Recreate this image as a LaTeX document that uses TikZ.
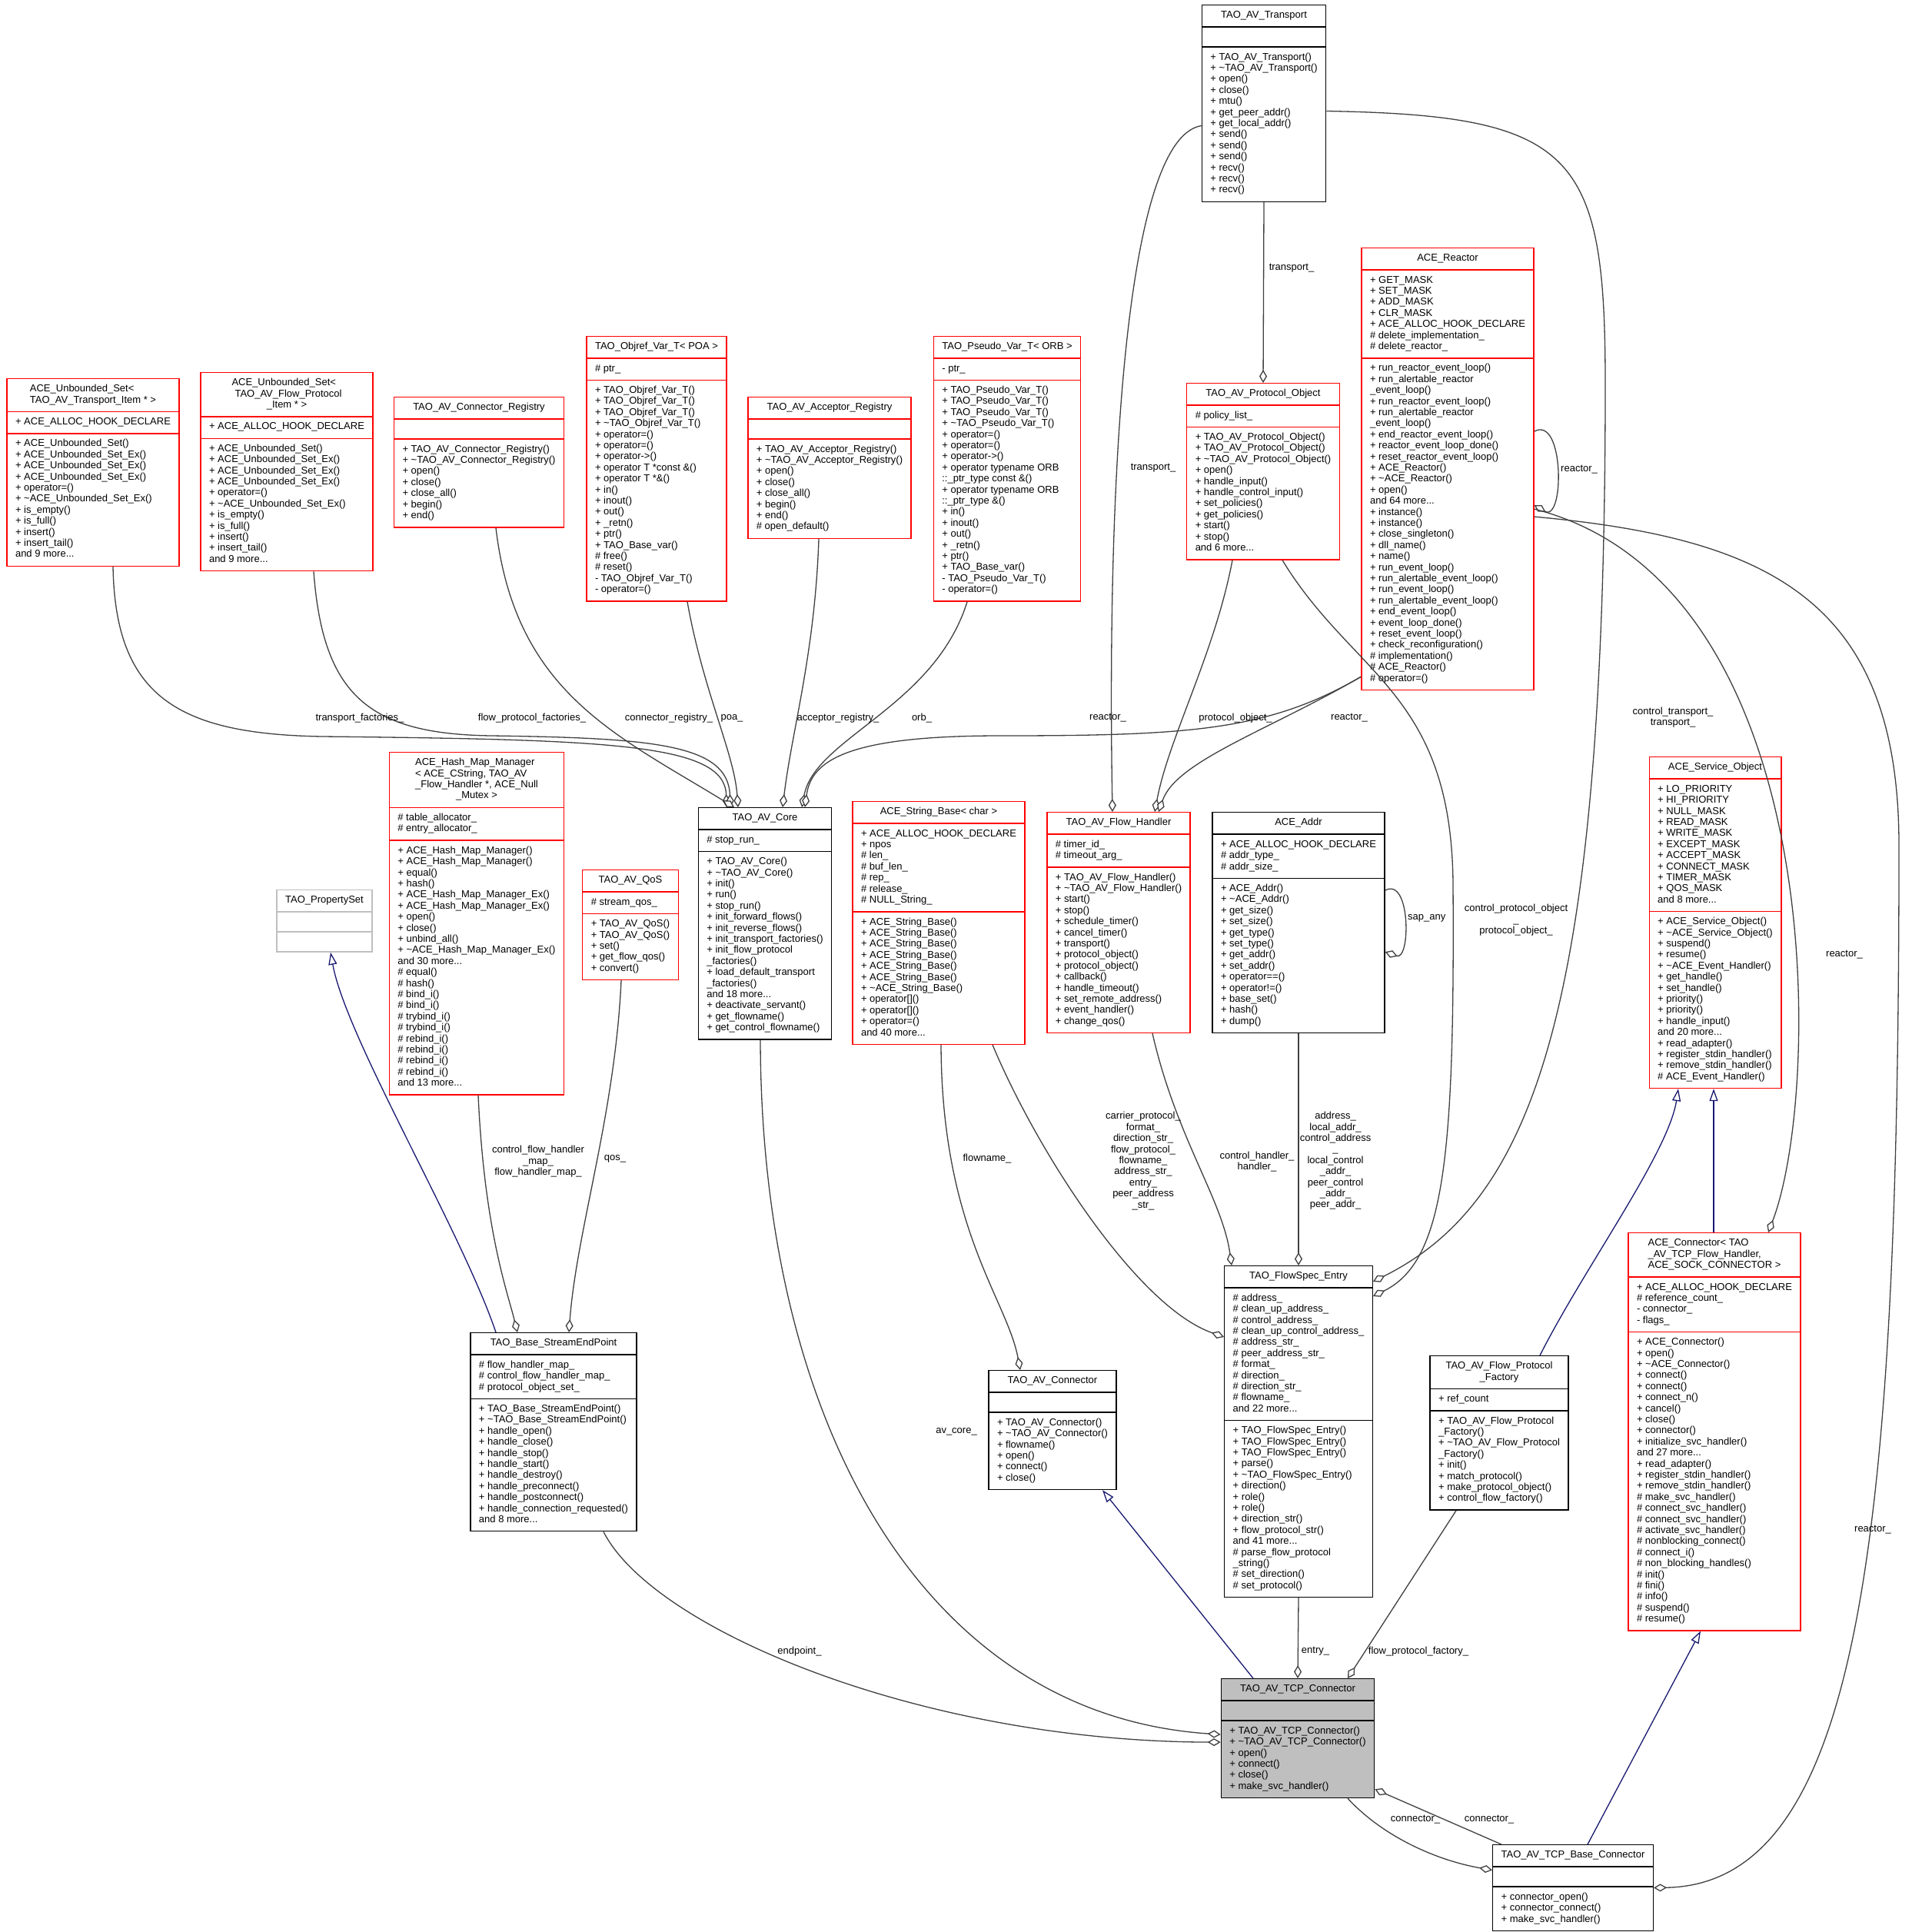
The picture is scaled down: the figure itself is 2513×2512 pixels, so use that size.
\documentclass[tikz,border=0pt]{standalone}
\usepackage{fontspec}
\setmainfont{Liberation Sans}
\usetikzlibrary{shapes.multipart,arrows.meta}
\definecolor{edgegray}{HTML}{404040}
\definecolor{navyblue}{HTML}{191970}
\definecolor{boxred}{HTML}{FF0000}
\definecolor{boxgray}{HTML}{BFBFBF}
\newcommand\Lt[1]{\begin{tabular}{@{}l@{}}#1\end{tabular}}
\newcommand\Ct[1]{\begin{tabular}{@{}c@{}}#1\end{tabular}}
\newcommand\cc[1]{\multicolumn{1}{@{}c@{}}{#1}}
\newcommand\tld{\textasciitilde}
\newcommand\Emp{\rule{0pt}{12pt}}
\tikzset{
 cls/.style={rectangle split, rectangle split parts=3, rectangle split part align={center,left,left}, draw=#1, line width=1.4pt, fill=white, inner xsep=11pt, inner ysep=6.3pt, anchor=north, font=\fontsize{13}{14.4}\selectfont},
 cls/.default=black,
 agg/.style={draw=edgegray, line width=1.3pt, -{Diamond[fill=white,length=17pt,width=10pt]}},
 inh/.style={draw=navyblue, line width=1.3pt, -{Triangle[fill=white,length=16pt,width=11pt]}},
 lbl/.style={font=\fontsize{13}{14.4}\selectfont, inner sep=0pt, align=center},
}
\begin{document}
\catcode`\_=12
\begin{tikzpicture}[x=1pt,y=-1pt]
\useasboundingbox (0,0) rectangle (2513,2512);
\fill[white] (0,0) rectangle (2513,2512);

% ---------- classes ----------
\node[cls] (tr) at (1644,6) {\Ct{TAO_AV_Transport}%
 \nodepart{two}\Emp%
 \nodepart{three}\Lt{+ TAO_AV_Transport()\\+ \tld{}TAO_AV_Transport()\\+ open()\\+ close()\\+ mtu()\\+ get_peer_addr()\\+ get_local_addr()\\+ send()\\+ send()\\+ send()\\+ recv()\\+ recv()\\+ recv()}};

\node[cls=boxred] (us1) at (121,492) {\Lt{ACE_Unbounded_Set<\\\cc{TAO_AV_Transport_Item * >}}%
 \nodepart{two}\Lt{+ ACE_ALLOC_HOOK_DECLARE}%
 \nodepart{three}\Lt{+ ACE_Unbounded_Set()\\+ ACE_Unbounded_Set_Ex()\\+ ACE_Unbounded_Set_Ex()\\+ ACE_Unbounded_Set_Ex()\\+ operator=()\\+ \tld{}ACE_Unbounded_Set_Ex()\\+ is_empty()\\+ is_full()\\+ insert()\\+ insert_tail()\\and 9 more...}};

\node[cls=boxred] (us2) at (373,484) {\Lt{ACE_Unbounded_Set<\\\hspace{4pt}TAO_AV_Flow_Protocol\\\cc{_Item * >}}%
 \nodepart{two}\Lt{+ ACE_ALLOC_HOOK_DECLARE}%
 \nodepart{three}\Lt{+ ACE_Unbounded_Set()\\+ ACE_Unbounded_Set_Ex()\\+ ACE_Unbounded_Set_Ex()\\+ ACE_Unbounded_Set_Ex()\\+ operator=()\\+ \tld{}ACE_Unbounded_Set_Ex()\\+ is_empty()\\+ is_full()\\+ insert()\\+ insert_tail()\\and 9 more...}};

\node[cls=boxred] (creg) at (623,516) {\Ct{TAO_AV_Connector_Registry}%
 \nodepart{two}\Emp%
 \nodepart{three}\Lt{+ TAO_AV_Connector_Registry()\\+ \tld{}TAO_AV_Connector_Registry()\\+ open()\\+ close()\\+ close_all()\\+ begin()\\+ end()}};

\node[cls=boxred] (objref) at (854,437) {\Ct{TAO_Objref_Var_T< POA >}%
 \nodepart{two}\Lt{\# ptr_}%
 \nodepart{three}\Lt{+ TAO_Objref_Var_T()\\+ TAO_Objref_Var_T()\\+ TAO_Objref_Var_T()\\+ \tld{}TAO_Objref_Var_T()\\+ operator=()\\+ operator=()\\+ operator->()\\+ operator T *const \&()\\+ operator T *\&()\\+ in()\\+ inout()\\+ out()\\+ _retn()\\+ ptr()\\+ TAO_Base_var()\\\# free()\\\# reset()\\- TAO_Objref_Var_T()\\- operator=()}};

\node[cls=boxred] (areg) at (1079,516) {\Ct{TAO_AV_Acceptor_Registry}%
 \nodepart{two}\Emp%
 \nodepart{three}\Lt{+ TAO_AV_Acceptor_Registry()\\+ \tld{}TAO_AV_Acceptor_Registry()\\+ open()\\+ close()\\+ close_all()\\+ begin()\\+ end()\\\# open_default()}};

\node[cls=boxred] (pseudo) at (1310,437) {\Ct{TAO_Pseudo_Var_T< ORB >}%
 \nodepart{two}\Lt{- ptr_}%
 \nodepart{three}\Lt{+ TAO_Pseudo_Var_T()\\+ TAO_Pseudo_Var_T()\\+ TAO_Pseudo_Var_T()\\+ \tld{}TAO_Pseudo_Var_T()\\+ operator=()\\+ operator=()\\+ operator->()\\+ operator typename ORB\\::_ptr_type const \&()\\+ operator typename ORB\\::_ptr_type \&()\\+ in()\\+ inout()\\+ out()\\+ _retn()\\+ ptr()\\+ TAO_Base_var()\\- TAO_Pseudo_Var_T()\\- operator=()}};

\node[cls=boxred] (proto) at (1643,498) {\Ct{TAO_AV_Protocol_Object}%
 \nodepart{two}\Lt{\# policy_list_}%
 \nodepart{three}\Lt{+ TAO_AV_Protocol_Object()\\+ TAO_AV_Protocol_Object()\\+ \tld{}TAO_AV_Protocol_Object()\\+ open()\\+ handle_input()\\+ handle_control_input()\\+ set_policies()\\+ get_policies()\\+ start()\\+ stop()\\and 6 more...}};

\node[cls=boxred] (reactor) at (1883,322) {\Ct{ACE_Reactor}%
 \nodepart{two}\Lt{+ GET_MASK\\+ SET_MASK\\+ ADD_MASK\\+ CLR_MASK\\+ ACE_ALLOC_HOOK_DECLARE\\\# delete_implementation_\\\# delete_reactor_}%
 \nodepart{three}\Lt{+ run_reactor_event_loop()\\+ run_alertable_reactor\\_event_loop()\\+ run_reactor_event_loop()\\+ run_alertable_reactor\\_event_loop()\\+ end_reactor_event_loop()\\+ reactor_event_loop_done()\\+ reset_reactor_event_loop()\\+ ACE_Reactor()\\+ \tld{}ACE_Reactor()\\+ open()\\and 64 more...\\+ instance()\\+ instance()\\+ close_singleton()\\+ dll_name()\\+ name()\\+ run_event_loop()\\+ run_alertable_event_loop()\\+ run_event_loop()\\+ run_alertable_event_loop()\\+ end_event_loop()\\+ event_loop_done()\\+ reset_event_loop()\\+ check_reconfiguration()\\\# implementation()\\\# ACE_Reactor()\\\# operator=()}};

\node[cls=boxred] (hashmap) at (620,978) {\Lt{ACE_Hash_Map_Manager\\< ACE_CString, TAO_AV\\_Flow_Handler *, ACE_Null\\\cc{_Mutex >}}%
 \nodepart{two}\Lt{\# table_allocator_\\\# entry_allocator_}%
 \nodepart{three}\Lt{+ ACE_Hash_Map_Manager()\\+ ACE_Hash_Map_Manager()\\+ equal()\\+ hash()\\+ ACE_Hash_Map_Manager_Ex()\\+ ACE_Hash_Map_Manager_Ex()\\+ open()\\+ close()\\+ unbind_all()\\+ \tld{}ACE_Hash_Map_Manager_Ex()\\and 30 more...\\\# equal()\\\# hash()\\\# bind_i()\\\# bind_i()\\\# trybind_i()\\\# trybind_i()\\\# rebind_i()\\\# rebind_i()\\\# rebind_i()\\\# rebind_i()\\and 13 more...}};

\node[cls=boxgray] (propset) at (422,1157) {\Ct{TAO_PropertySet}%
 \nodepart{two}\Emp%
 \nodepart{three}\Emp};

\node[cls=boxred] (qos) at (820,1131) {\Ct{TAO_AV_QoS}%
 \nodepart{two}\Lt{\# stream_qos_}%
 \nodepart{three}\Lt{+ TAO_AV_QoS()\\+ TAO_AV_QoS()\\+ set()\\+ get_flow_qos()\\+ convert()}};

\node[cls] (core) at (995,1050) {\Ct{TAO_AV_Core}%
 \nodepart{two}\Lt{\# stop_run_}%
 \nodepart{three}\Lt{+ TAO_AV_Core()\\+ \tld{}TAO_AV_Core()\\+ init()\\+ run()\\+ stop_run()\\+ init_forward_flows()\\+ init_reverse_flows()\\+ init_transport_factories()\\+ init_flow_protocol\\_factories()\\+ load_default_transport\\_factories()\\and 18 more...\\+ deactivate_servant()\\+ get_flowname()\\+ get_control_flowname()}};

\node[cls=boxred] (strbase) at (1221,1042) {\Ct{ACE_String_Base< char >}%
 \nodepart{two}\Lt{+ ACE_ALLOC_HOOK_DECLARE\\+ npos\\\# len_\\\# buf_len_\\\# rep_\\\# release_\\\# NULL_String_}%
 \nodepart{three}\Lt{+ ACE_String_Base()\\+ ACE_String_Base()\\+ ACE_String_Base()\\+ ACE_String_Base()\\+ ACE_String_Base()\\+ ACE_String_Base()\\+ \tld{}ACE_String_Base()\\+ operator[]()\\+ operator[]()\\+ operator=()\\and 40 more...}};

\node[cls=boxred] (flowh) at (1455,1056) {\Ct{TAO_AV_Flow_Handler}%
 \nodepart{two}\Lt{\# timer_id_\\\# timeout_arg_}%
 \nodepart{three}\Lt{+ TAO_AV_Flow_Handler()\\+ \tld{}TAO_AV_Flow_Handler()\\+ start()\\+ stop()\\+ schedule_timer()\\+ cancel_timer()\\+ transport()\\+ protocol_object()\\+ protocol_object()\\+ callback()\\+ handle_timeout()\\+ set_remote_address()\\+ event_handler()\\+ change_qos()}};

\node[cls] (addr) at (1689,1056) {\Ct{ACE_Addr}%
 \nodepart{two}\Lt{+ ACE_ALLOC_HOOK_DECLARE\\\# addr_type_\\\# addr_size_}%
 \nodepart{three}\Lt{+ ACE_Addr()\\+ \tld{}ACE_Addr()\\+ get_size()\\+ set_size()\\+ get_type()\\+ set_type()\\+ get_addr()\\+ set_addr()\\+ operator==()\\+ operator!=()\\+ base_set()\\+ hash()\\+ dump()}};

\node[cls=boxred] (svcobj) at (2231,984) {\Ct{ACE_Service_Object}%
 \nodepart{two}\Lt{+ LO_PRIORITY\\+ HI_PRIORITY\\+ NULL_MASK\\+ READ_MASK\\+ WRITE_MASK\\+ EXCEPT_MASK\\+ ACCEPT_MASK\\+ CONNECT_MASK\\+ TIMER_MASK\\+ QOS_MASK\\and 8 more...}%
 \nodepart{three}\Lt{+ ACE_Service_Object()\\+ \tld{}ACE_Service_Object()\\+ suspend()\\+ resume()\\+ \tld{}ACE_Event_Handler()\\+ get_handle()\\+ set_handle()\\+ priority()\\+ priority()\\+ handle_input()\\and 20 more...\\+ read_adapter()\\+ register_stdin_handler()\\+ remove_stdin_handler()\\\# ACE_Event_Handler()}};

\node[cls=boxred] (acecon) at (2230,1603) {\Lt{ACE_Connector< TAO\\_AV_TCP_Flow_Handler,\\\cc{ACE_SOCK_CONNECTOR >}}%
 \nodepart{two}\Lt{+ ACE_ALLOC_HOOK_DECLARE\\\# reference_count_\\- connector_\\- flags_}%
 \nodepart{three}\Lt{+ ACE_Connector()\\+ open()\\+ \tld{}ACE_Connector()\\+ connect()\\+ connect()\\+ connect_n()\\+ cancel()\\+ close()\\+ connector()\\+ initialize_svc_handler()\\and 27 more...\\+ read_adapter()\\+ register_stdin_handler()\\+ remove_stdin_handler()\\\# make_svc_handler()\\\# connect_svc_handler()\\\# connect_svc_handler()\\\# activate_svc_handler()\\\# nonblocking_connect()\\\# connect_i()\\\# non_blocking_handles()\\\# init()\\\# fini()\\\# info()\\\# suspend()\\\# resume()}};

\node[cls] (flowspec) at (1689,1646) {\Ct{TAO_FlowSpec_Entry}%
 \nodepart{two}\Lt{\# address_\\\# clean_up_address_\\\# control_address_\\\# clean_up_control_address_\\\# address_str_\\\# peer_address_str_\\\# format_\\\# direction_\\\# direction_str_\\\# flowname_\\and 22 more...}%
 \nodepart{three}\Lt{+ TAO_FlowSpec_Entry()\\+ TAO_FlowSpec_Entry()\\+ TAO_FlowSpec_Entry()\\+ parse()\\+ \tld{}TAO_FlowSpec_Entry()\\+ direction()\\+ role()\\+ role()\\+ direction_str()\\+ flow_protocol_str()\\and 41 more...\\\# parse_flow_protocol\\_string()\\\# set_direction()\\\# set_protocol()}};

\node[cls] (fpf) at (1950,1763) {\Lt{TAO_AV_Flow_Protocol\\\cc{_Factory}}%
 \nodepart{two}\Lt{+ ref_count}%
 \nodepart{three}\Lt{+ TAO_AV_Flow_Protocol\\_Factory()\\+ \tld{}TAO_AV_Flow_Protocol\\_Factory()\\+ init()\\+ match_protocol()\\+ make_protocol_object()\\+ control_flow_factory()}};

\node[cls] (bse) at (720,1733) {\Ct{TAO_Base_StreamEndPoint}%
 \nodepart{two}\Lt{\# flow_handler_map_\\\# control_flow_handler_map_\\\# protocol_object_set_}%
 \nodepart{three}\Lt{+ TAO_Base_StreamEndPoint()\\+ \tld{}TAO_Base_StreamEndPoint()\\+ handle_open()\\+ handle_close()\\+ handle_stop()\\+ handle_start()\\+ handle_destroy()\\+ handle_preconnect()\\+ handle_postconnect()\\+ handle_connection_requested()\\and 8 more...}};

\node[cls] (avcon) at (1369,1782) {\Ct{TAO_AV_Connector}%
 \nodepart{two}\Emp%
 \nodepart{three}\Lt{+ TAO_AV_Connector()\\+ \tld{}TAO_AV_Connector()\\+ flowname()\\+ open()\\+ connect()\\+ close()}};

\node[cls, fill=boxgray] (tcp) at (1688,2183) {\Ct{TAO_AV_TCP_Connector}%
 \nodepart{two}\Emp%
 \nodepart{three}\Lt{+ TAO_AV_TCP_Connector()\\+ \tld{}TAO_AV_TCP_Connector()\\+ open()\\+ connect()\\+ close()\\+ make_svc_handler()}};

\node[cls] (tcpbase) at (2046,2399) {\Ct{TAO_AV_TCP_Base_Connector}%
 \nodepart{two}\Emp%
 \nodepart{three}\Lt{+ connector_open()\\+ connector_connect()\\+ make_svc_handler()}};

% ---------- aggregation edges ----------
\draw[agg] ([xshift=26pt]us1.south) .. controls (150,905) and (230,955) .. (420,958) .. controls (800,962) and (943,968) .. ([xshift=-50pt]core.north);
\draw[agg] ([xshift=35pt]us2.south) .. controls (420,905) and (480,955) .. (640,957) .. controls (850,960) and (947,968) .. ([xshift=-45pt]core.north);
\draw[agg] ([xshift=22pt]creg.south) .. controls (670,900) and (800,955) .. ([xshift=-40pt]core.north);
\draw[agg] ([xshift=40pt]objref.south) .. controls (915,900) and (955,980) .. ([xshift=-35pt]core.north);
\draw[agg] ([xshift=-14pt]areg.south) .. controls (1060,850) and (1030,950) .. ([xshift=23pt]core.north);
\draw[agg] ([xshift=-52pt]pseudo.south) .. controls (1215,920) and (1060,960) .. ([xshift=48pt]core.north);
\draw[agg] ([yshift=18pt]reactor.south west) .. controls (1650,950) and (1550,957) .. (1300,957) .. controls (1100,957) and (1055,990) .. ([xshift=52pt]core.north);

\draw[agg] ([yshift=-29pt]tr.west) .. controls (1460,180) and (1440,650) .. ([xshift=-8pt]flowh.north);
\draw[agg] ([yshift=-10pt]tr.east) .. controls (2050,150) and (2088,200) .. (2088,500) .. controls (2088,1300) and (2000,1560) .. ([yshift=-21pt]flowspec.north east);
\draw[agg] (tr.south) -- (proto.north);
\draw[agg] ([xshift=-40pt]proto.south) .. controls (1580,850) and (1520,960) .. ([xshift=47pt]flowh.north);
\draw[agg] ([xshift=25pt]proto.south) .. controls (1760,880) and (1888,900) .. (1890,1150) .. controls (1892,1500) and (1880,1640) .. ([yshift=-40pt]flowspec.north east);
\draw[agg] ([yshift=18pt]reactor.south west) .. controls (1650,950) and (1530,990) .. ([xshift=52pt]flowh.north);
\draw[agg] ([yshift=49pt]reactor.east) .. controls (2035,540) and (2035,680) .. ([yshift=-47pt]reactor.east);
\draw[agg] ([yshift=-52pt]reactor.east) .. controls (2380,760) and (2370,1420) .. ([xshift=70pt]acecon.north);
\draw[agg] ([yshift=-62pt]reactor.east) .. controls (2300,700) and (2470,780) .. (2470,1100) .. controls (2470,2000) and (2420,2451) .. (tcpbase.east);

\draw[agg] ([xshift=2pt]hashmap.south) .. controls (630,1600) and (660,1680) .. ([xshift=-47pt]bse.north);
\draw[agg] ([xshift=-12pt]qos.south) .. controls (800,1450) and (750,1600) .. ([xshift=20pt]bse.north);
\draw[agg] ([xshift=-6pt]core.south) .. controls (990,1850) and (1200,2230) .. ([yshift=5pt]tcp.west);
\draw[agg] ([xshift=65pt]bse.south) .. controls (850,2120) and (1200,2265) .. ([yshift=-5pt]tcp.west);
\draw[agg] ([xshift=3pt]strbase.south) .. controls (1225,1600) and (1310,1690) .. ([xshift=-42pt]avcon.north);
\draw[agg] ([xshift=70pt]strbase.south) .. controls (1350,1500) and (1480,1700) .. ([yshift=-93pt]flowspec.north west);
\draw[agg] ([xshift=44pt]flowh.south) .. controls (1530,1480) and (1590,1560) .. ([xshift=-87pt]flowspec.north);
\draw[agg] (addr.south) -- (flowspec.north);
\draw[agg] ([yshift=42pt]addr.east) .. controls (1835,1140) and (1835,1250) .. ([yshift=-38pt]addr.east);
\draw[agg] (flowspec.south) -- (tcp.north);
\draw[agg] ([xshift=-56pt]fpf.south) -- ([xshift=65pt]tcp.north);
\draw[agg] ([xshift=12pt]tcpbase.north west) -- ([yshift=12pt]tcp.south east);
\draw[agg] ([xshift=65pt]tcp.south) .. controls (1800,2390) and (1870,2420) .. ([yshift=23pt]tcpbase.west);

% ---------- inheritance edges ----------
\draw[inh] ([xshift=-75pt]bse.north) .. controls (600,1600) and (450,1350) .. ([xshift=8pt]propset.south);
\draw[inh] ([xshift=-58pt]tcp.north) -- ([xshift=65pt]avcon.south);
\draw[inh] ([xshift=53pt]fpf.north) .. controls (2060,1650) and (2170,1500) .. ([xshift=-48pt]svcobj.south);
\draw[inh] ([xshift=-1pt]acecon.north) -- ([xshift=-2pt]svcobj.south);
\draw[inh] ([xshift=19pt]tcpbase.north) -- ([xshift=-18pt]acecon.south);

% ---------- edge labels ----------
\node[lbl] (lb1) at (468,934) {transport_factories_};
\node[lbl] (lb2) at (692,934) {flow_protocol_factories_};
\node[lbl] (lb3) at (870,934) {connector_registry_};
\node[lbl] (lb4) at (952,934) {poa_};
\node[lbl] (lb5) at (1090,934) {acceptor_registry_};
\node[lbl] (lb6) at (1199,934) {orb_};
\node[lbl] (lb7) at (1441,934) {reactor_};
\node[lbl] (lb8) at (1500,609) {transport_};
\node[lbl] (lb9) at (2176,933) {control_transport_\\transport_};
\node[lbl] (lb10) at (1680,349) {transport_};
\node[lbl] (lb11) at (1607,934) {protocol_object_};
\node[lbl] (lb12) at (1972,1197) {control_protocol_object\\_\\protocol_object_};
\node[lbl] (lb13) at (1755,934) {reactor_};
\node[lbl, anchor=west] (lb14) at (2030,611) {reactor_};
\node[lbl] (lb15) at (2399,1242) {reactor_};
\node[lbl] (lb16) at (2436,1990) {reactor_};
\node[lbl] (lb17) at (700,1511) {control_flow_handler\\_map_\\flow_handler_map_};
\node[lbl] (lb19) at (800,1507) {qos_};
\node[lbl] (lb20) at (1244,1862) {av_core_};
\node[lbl] (lb21) at (1040,2148) {endpoint_};
\node[lbl] (lb22) at (1284,1507) {flowname_};
\node[lbl] (lb23) at (1487,1510) {carrier_protocol_\\format_\\direction_str_\\flow_protocol_\\flowname_\\address_str_\\entry_\\peer_address\\_str_};
\node[lbl] (lb24) at (1635,1511) {control_handler_\\handler_};
\node[lbl] (lb25) at (1737,1510) {address_\\local_addr_\\control_address\\_\\local_control\\_addr_\\peer_control\\_addr_\\peer_addr_};
\node[lbl, anchor=west] (lb26) at (1831,1194) {sap_any};
\node[lbl] (lb28) at (1711,2148) {entry_};
\node[lbl] (lb29) at (1845,2148) {flow_protocol_factory_};
\node[lbl] (lb33) at (1937,2367) {connector_};
\node[lbl] (lb34) at (1841,2367) {connector_};
\end{tikzpicture}
\end{document}
